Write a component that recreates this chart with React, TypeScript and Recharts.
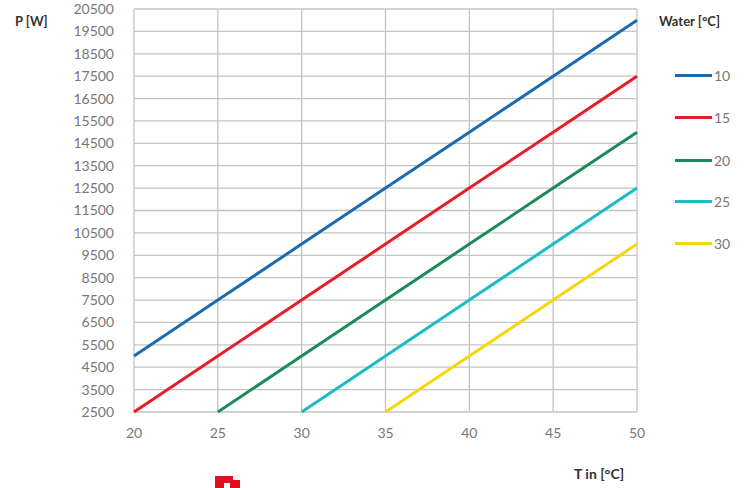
import React from "react";
import { LineChart, Line, XAxis, YAxis, CartesianGrid } from "recharts";

const tin = [20, 25, 30, 35, 40, 45, 50];
const w10 = [5000, 7500, 10000, 12500, 15000, 17500, 20000];
const w15 = [2500, 5000, 7500, 10000, 12500, 15000, 17500];
const w20 = [null, 2500, 5000, 7500, 10000, 12500, 15000];
const w25 = [null, null, 2500, 5000, 7500, 10000, 12500];
const w30 = [null, null, null, 2500, 5000, 7500, 10000];

const yTicks = [
  2500, 3500, 4500, 5500, 6500, 7500, 8500, 9500, 10500, 11500, 12500, 13500,
  14500, 15500, 16500, 17500, 18500, 19500, 20500,
];

const series = [
  { key: "w10", name: "10", color: "#1f6aa8", values: w10 },
  { key: "w15", name: "15", color: "#e41e2b", values: w15 },
  { key: "w20", name: "20", color: "#1b8a5c", values: w20 },
  { key: "w25", name: "25", color: "#1bbcc6", values: w25 },
  { key: "w30", name: "30", color: "#f4d70c", values: w30 },
];

const data = tin.map((t, i) => {
  const row: any = { t };
  series.forEach((s) => (row[s.key] = s.values[i]));
  return row;
});

const font = "Lato, 'Open Sans', sans-serif";
const legendY = [75, 117, 160, 201, 243];

export default function App() {
  return (
    <div style={{ position: "absolute", left: 0, top: 0, width: 755, height: 488, background: "#fff", fontFamily: font }}>
      <LineChart width={755} height={488} data={data} margin={{ top: 9, right: 118, bottom: 46, left: 0 }}>
        <CartesianGrid stroke="#c4c4c4" strokeWidth={1.3} />
        <XAxis
          dataKey="t"
          type="number"
          domain={[20, 50]}
          ticks={tin}
          axisLine={false}
          tickLine={false}
          tickMargin={10}
          height={30}
          tick={{ fill: "#777", fontSize: 14, fontFamily: font }}
        />
        <YAxis
          type="number"
          domain={[2500, 20500]}
          ticks={yTicks}
          width={134}
          axisLine={false}
          tickLine={false}
          tickMargin={14}
          interval={0}
          tick={{ fill: "#777", fontSize: 14, fontFamily: font }}
        />
        {series.map((s) => (
          <Line
            key={s.key}
            dataKey={s.key}
            stroke={s.color}
            strokeWidth={3}
            dot={false}
            isAnimationActive={false}
          />
        ))}
      </LineChart>
      <div style={{ position: "absolute", left: 15, top: 13, fontSize: 13, fontWeight: 700, color: "#333" }}>P [W]</div>
      <div style={{ position: "absolute", left: 574, top: 465, fontSize: 14, fontWeight: 700, color: "#333" }}>T in [°C]</div>
      <div style={{ position: "absolute", left: 659, top: 13, fontSize: 13, fontWeight: 700, color: "#333" }}>Water [°C]</div>
      {series.map((s, i) => (
        <div key={s.key} style={{ position: "absolute", left: 675, top: legendY[i] - 9, display: "flex", alignItems: "center", height: 18 }}>
          <div style={{ width: 37, height: 3, background: s.color }} />
          <span style={{ marginLeft: 2, fontSize: 14, color: "#777" }}>{s.name}</span>
        </div>
      ))}
      <div style={{ position: "absolute", left: 215, top: 476, width: 25, height: 12, overflow: "hidden" }}>
        <div style={{ position: "absolute", left: 0, top: 4, width: 25, height: 10, background: "#e0101e" }} />
        <div style={{ position: "absolute", left: 0, top: 0, width: 18, height: 6, background: "#e0101e" }} />
        <div style={{ position: "absolute", left: 9, top: 7, width: 6, height: 6, background: "#fff" }} />
      </div>
    </div>
  );
}
